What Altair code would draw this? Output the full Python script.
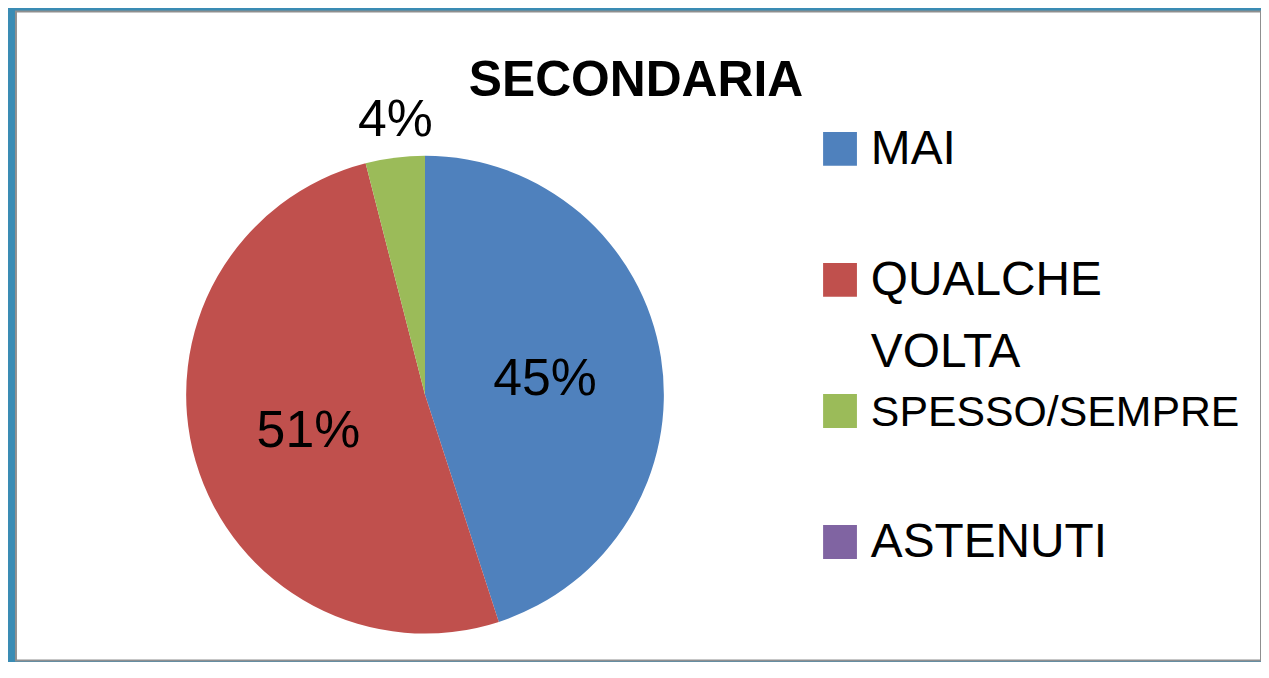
import altair as alt
import pandas as pd

# ---- data ----
TITLE = "SECONDARIA"
CATEGORIES = ["MAI", "QUALCHE VOLTA", "SPESSO/SEMPRE", "ASTENUTI"]
PERCENT = [45, 51, 4, 0]
COLORS = ["#4F81BD", "#C0504D", "#9BBB59", "#8064A2"]

df = pd.DataFrame({
    "cat": CATEGORIES,
    "value": PERCENT,
    "idx": list(range(len(CATEGORIES))),
})
title_df = pd.DataFrame({"t": [TITLE]})

FONT = "Liberation Sans"
CX, CY, R = 411, 385, 240

color = alt.Color("cat:N", scale=alt.Scale(domain=CATEGORIES, range=COLORS), legend=None)
theta = alt.Theta("value:Q", stack=True)
order = alt.Order("idx:Q")

base = alt.Chart(df)

pie = base.mark_arc(radius=R).encode(
    theta=theta, color=color, order=order,
    x=alt.value(CX), y=alt.value(CY),
)

labeled = base.transform_calculate(
    inner="datum.value >= 10 ? datum.value + '%' : ''",
    outer="datum.value > 0 && datum.value < 10 ? datum.value + '%' : ''",
)

inner_lbl = labeled.mark_text(radius=122, font=FONT, fontSize=52, color="black", baseline="middle").encode(
    theta=theta, order=order, detail="cat:N", text="inner:N",
    x=alt.value(CX), y=alt.value(CY + 3),
)
outer_lbl = labeled.mark_text(radius=278, font=FONT, fontSize=52, color="black", baseline="middle").encode(
    theta=theta, order=order, detail="cat:N", text="outer:N",
    x=alt.value(CX + 5), y=alt.value(CY),
)

ypos = alt.Y("cat:N", sort=CATEGORIES, axis=None,
             scale=alt.Scale(domain=CATEGORIES, range=[138, 533], padding=0))

leg_sq = base.mark_square(size=34 * 34, opacity=1, strokeWidth=0).encode(
    x=alt.value(828), y=ypos, color=color,
)
leg_txt = base.mark_text(align="left", baseline="alphabetic", dy=15, font=FONT,
                         lineBreak=" ", lineHeight=72, color="black").encode(
    x=alt.value(859), y=ypos, text="cat:N",
    size=alt.condition(alt.datum.cat == "SPESSO/SEMPRE", alt.value(43), alt.value(48)),
)

title = alt.Chart(title_df).mark_text(font=FONT, fontSize=50, fontWeight="bold",
                                       align="center", baseline="alphabetic", color="black").encode(
    x=alt.value(623), y=alt.value(85), text="t:N",
)

chart = alt.layer(pie, inner_lbl, outer_lbl, leg_sq, leg_txt, title).properties(
    width=1251, height=652,
    padding={"left": 8, "top": 2, "right": 0, "bottom": 0},
    autosize=alt.AutoSizeParams(type="none"),
    background="#3a8cb4",
).configure_view(fill="white", stroke="#8f8f8f", strokeWidth=2)

chart.save("out.html", embed_options={"renderer": "svg", "actions": False})
